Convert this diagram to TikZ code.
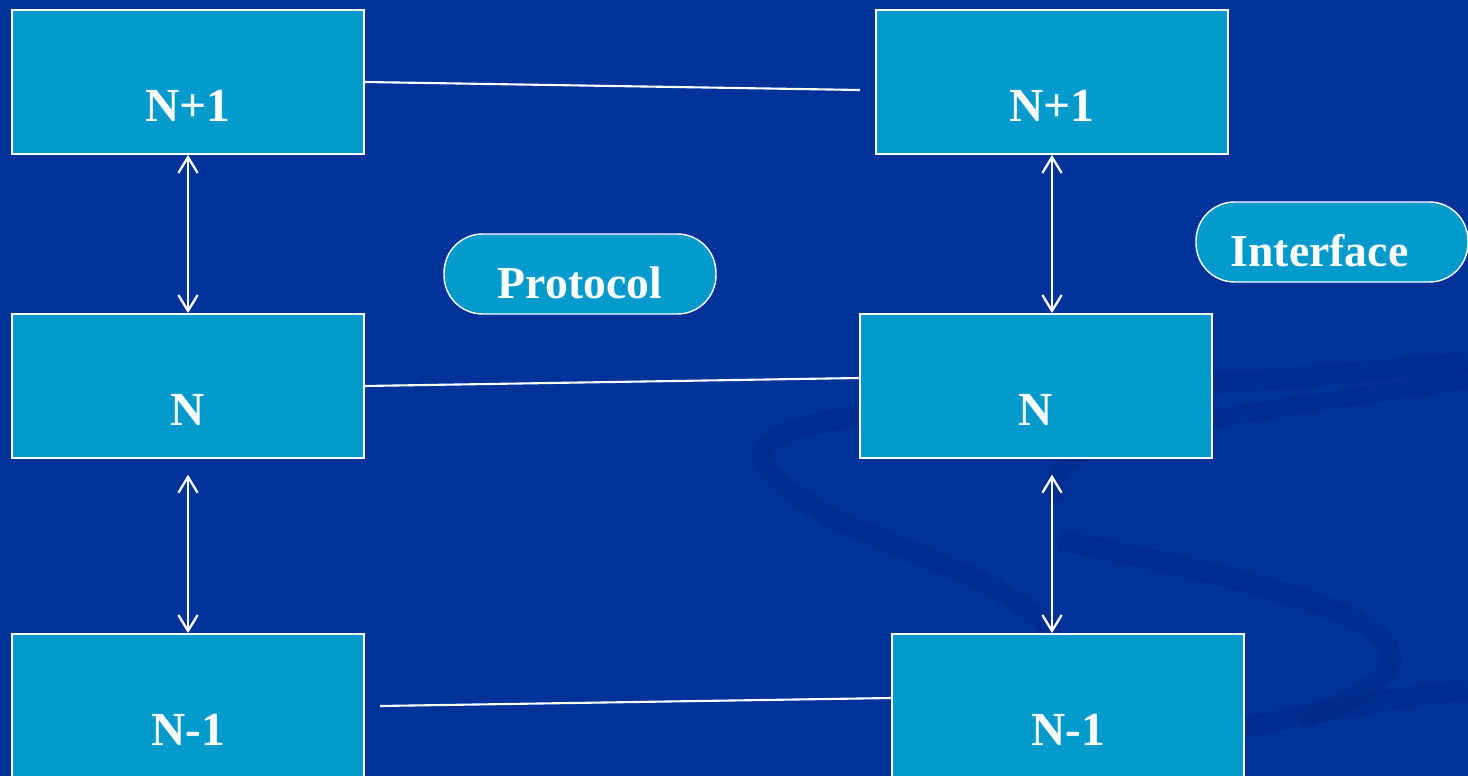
\documentclass[tikz,border=0pt]{standalone}
\usepackage{fontspec}
\setmainfont{Liberation Serif}
\usetikzlibrary{arrows.meta}

\definecolor{slidebg}{RGB}{0,51,153}
\definecolor{swirl}{RGB}{0,38,128}
\definecolor{boxfill}{RGB}{0,155,204}

\begin{document}
\begin{tikzpicture}[x=0.02cm,y=-0.02cm,
	layer/.style={draw=white,line width=1.1pt,fill=boxfill,text=white,
		font=\fontsize{27}{30}\selectfont\bfseries,inner sep=0pt,
		minimum width=7.04cm,minimum height=2.88cm,text height=45pt,text depth=0pt},
	tag/.style={draw=white,line width=0.8pt,fill=boxfill,text=white,
		font=\fontsize{26}{30}\selectfont\bfseries,inner sep=0pt,rounded corners=22pt,
		minimum width=5.44cm,minimum height=1.6cm,text height=28pt,text depth=0pt},
	link/.style={white,line width=1.2pt},
	updown/.style={white,line width=1.3pt,
		{Straight Barb[length=9pt,width=11pt]}-{Straight Barb[length=9pt,width=11pt]}}]

	% slide background
	\useasboundingbox (0,0) rectangle (1468,776);
	\fill[slidebg] (0,0) rectangle (1468,776);
	\draw[swirl,line width=12pt,opacity=0.35] (1468,362) .. controls (1100,400) and (700,400) .. (770,470)
		.. controls (820,540) and (1000,560) .. (1060,640);
	\draw[swirl,line width=10pt,opacity=0.35] (1468,380) .. controls (1200,420) and (1020,440) .. (1060,500);
	\draw[swirl,line width=12pt,opacity=0.35] (1060,540) .. controls (1300,590) and (1520,640) .. (1300,720);
	\draw[swirl,line width=12pt,opacity=0.35] (1000,776) .. controls (1200,740) and (1350,700) .. (1468,690);

	% layers
	\node[layer] (lTop) at (188,82)  {N+1};
	\node[layer] (rTop) at (1052,82) {N+1};
	\node[layer] (lN)   at (188,386) {N};
	\node[layer] (rN)   at (1036,386) {N};
	\node[layer] (lBot) at (188,706) {N-1};
	\node[layer] (rBot) at (1068,706) {N-1};

	\node[tag] (proto) at (580,274)  {Protocol};
	\node[tag] (iface) at (1332,242) {\hspace*{-0.5cm}Interface};

	% peer links
	\coordinate (pTop) at (860,90);
	\coordinate (pMid) at (860,378);
	\coordinate (pLow) at (380,706);
	\coordinate (pLowEnd) at (892,698);
	\draw[link] (lTop.east) -- (pTop);
	\draw[link] (lN.east) -- (pMid);
	\draw[link] (pLow) -- (pLowEnd);

	% service interfaces
	\draw[updown] (lTop.south) -- (lN.north);
	\draw[updown,shorten <=9pt] (lN.south) -- (lBot.north);
	\draw[updown] (rTop.south) -- (rTop.south |- rN.north);
	\draw[updown,shorten <=9pt] (rN.south -| rTop.south) -- (rBot.north -| rTop.south);

\end{tikzpicture}
\end{document}
